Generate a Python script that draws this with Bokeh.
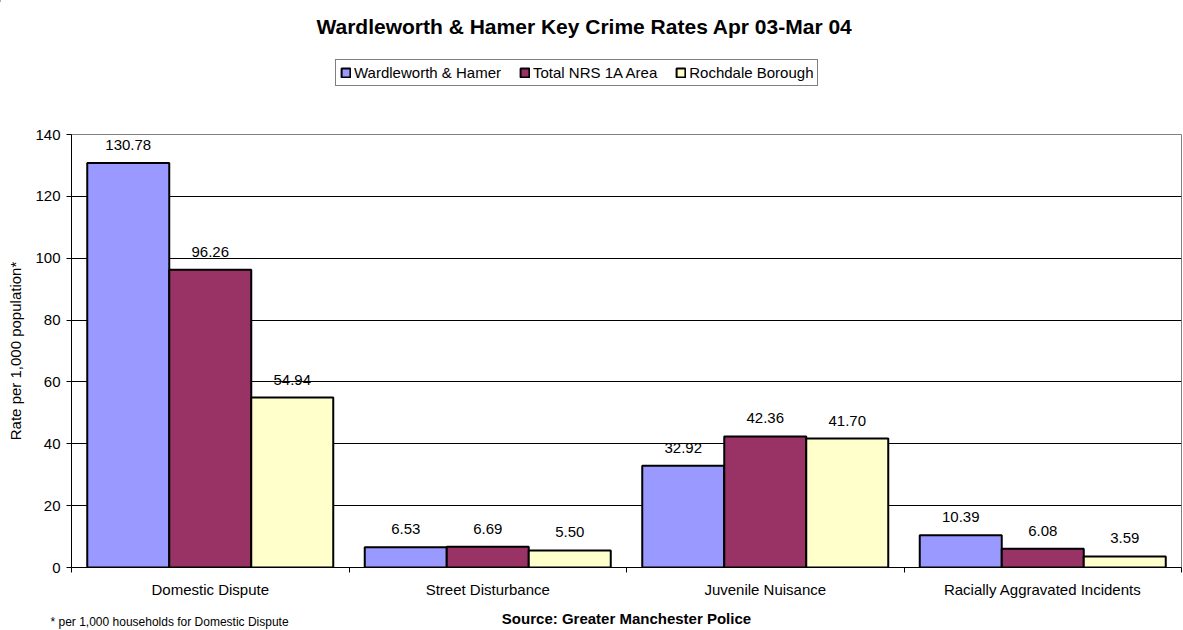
from bokeh.plotting import figure
from bokeh.layouts import column
from bokeh.models import ColumnDataSource, Range1d, FixedTicker, Legend, LegendItem, LabelSet, Label
from bokeh.core.properties import value
from bokeh.transform import dodge
from bokeh.embed import file_html
from bokeh.resources import INLINE

categories = ["Domestic Dispute", "Street Disturbance", "Juvenile Nuisance", "Racially Aggravated Incidents"]
series_names = ["Wardleworth & Hamer", "Total NRS 1A Area", "Rochdale Borough"]
wardleworth = [130.78, 6.53, 32.92, 10.39]
nrs_1a = [96.26, 6.69, 42.36, 6.08]
rochdale = [54.94, 5.50, 41.70, 3.59]
y_ticks = [0, 20, 40, 60, 80, 100, 120, 140]

TITLE = "Wardleworth & Hamer Key Crime Rates Apr 03-Mar 04"
SOURCE = "Source: Greater Manchester Police"
NOTE = "* per 1,000 households for Domestic Dispute"
Y_LABEL = "Rate per 1,000 population*"

colors = ["#9999FF", "#993366", "#FFFFCC"]
FONT = "Liberation Sans"
FS = "15px"
W = 1183
TOP_H = 100
MAIN_H = 507
BOT_H = 630 - TOP_H - MAIN_H

# ---------------- top: title + legend ----------------
top = figure(width=W, height=TOP_H, output_backend="svg", toolbar_location=None,
             title_location=None,
             x_range=Range1d(0, W), y_range=Range1d(TOP_H, 0),
             x_axis_type=None, y_axis_type=None, min_border=0, frame_align=False)
top.outline_line_color = None
top.grid.visible = False
top.add_layout(Label(x=584, y=26, text=TITLE, text_align="center", text_baseline="alphabetic",
                     text_font=FONT, text_font_size="21px", text_font_style="bold",
                     text_color="black"))
# legend proxies (kept outside the visible range)
proxy = ColumnDataSource(dict(x=[-1000], top=[0]))
dummy = [top.vbar(x="x", top="top", width=1, source=proxy, fill_color=col,
                  line_color="black", line_width=2) for col in colors]
legend = Legend(items=[LegendItem(label=n, renderers=[r]) for n, r in zip(series_names, dummy)],
                orientation="horizontal", location=(335, TOP_H - 86),
                glyph_width=11, glyph_height=11, label_standoff=3, spacing=18,
                padding=4, margin=0, label_height=14,
                label_text_font=FONT, label_text_font_size=FS, label_text_color="black",
                border_line_color="black", border_line_width=1,
                background_fill_color="white", background_fill_alpha=1)
top.add_layout(legend, "center")

# ---------------- main chart ----------------
xs = [i + 0.5 for i in range(len(categories))]
src = ColumnDataSource(dict(
    x=xs,
    w=wardleworth, n=nrs_1a, r=rochdale,
    wl=[f"{v:.2f}" for v in wardleworth],
    nl=[f"{v:.2f}" for v in nrs_1a],
    rl=[f"{v:.2f}" for v in rochdale],
))

p = figure(width=W, height=MAIN_H, output_backend="svg", toolbar_location=None,
           title_location=None,
           x_range=Range1d(0, len(categories)), y_range=Range1d(0, 140),
           min_border_left=71, min_border_right=2, min_border_top=134 - TOP_H,
           min_border_bottom=TOP_H + MAIN_H - 567, frame_align=False)
p.background_fill_color = "white"
p.border_fill_color = "white"
p.outline_line_color = "#808080"
p.outline_line_width = 1

bw = 0.2955
for key, off, col in zip(["w", "n", "r"], [-bw, 0, bw], colors):
    p.vbar(x=dodge("x", off, range=p.x_range), top=key, width=bw, source=src,
           fill_color=col, line_color="black", line_width=2)
    p.add_layout(LabelSet(x=dodge("x", off, range=p.x_range), y=key, text=key + "l", source=src,
                          text_align="center", text_baseline="alphabetic", y_offset=13,
                          text_font=value(FONT), text_font_size=value(FS), text_color="black"))

p.yaxis.ticker = FixedTicker(ticks=y_ticks)
p.yaxis.axis_label = Y_LABEL
p.yaxis.axis_label_text_font = FONT
p.yaxis.axis_label_text_font_style = "normal"
p.yaxis.axis_label_text_font_size = FS
p.yaxis.axis_label_text_color = "black"
p.yaxis.axis_label_standoff = 8
p.yaxis.major_label_text_font = FONT
p.yaxis.major_label_text_font_size = FS
p.yaxis.major_label_text_color = "black"
p.yaxis.major_label_standoff = 6
p.yaxis.major_tick_out = 5
p.yaxis.major_tick_in = 0
p.yaxis.minor_tick_line_color = None
p.yaxis.axis_line_color = "black"
p.yaxis.major_tick_line_color = "black"

p.xaxis.ticker = FixedTicker(ticks=xs, minor_ticks=list(range(len(categories) + 1)))
p.xaxis.major_label_overrides = {x: c for x, c in zip(xs, categories)}
p.xaxis.major_tick_line_color = None
p.xaxis.major_tick_out = 0
p.xaxis.major_tick_in = 0
p.xaxis.minor_tick_out = 5
p.xaxis.minor_tick_in = 0
p.xaxis.minor_tick_line_color = "black"
p.xaxis.major_label_text_font = FONT
p.xaxis.major_label_text_font_size = FS
p.xaxis.major_label_text_color = "black"
p.xaxis.major_label_standoff = 8
p.xaxis.axis_line_color = "black"

p.xgrid.grid_line_color = None
p.ygrid.grid_line_color = "black"
p.ygrid.grid_line_width = 1

# ---------------- bottom: source + footnote ----------------
bot = figure(width=W, height=BOT_H, output_backend="svg", toolbar_location=None,
             title_location=None,
             x_range=Range1d(0, W), y_range=Range1d(BOT_H, 0),
             x_axis_type=None, y_axis_type=None, min_border=0, frame_align=False)
bot.outline_line_color = None
bot.grid.visible = False
y0 = TOP_H + MAIN_H
bot.add_layout(Label(x=626, y=618 - y0, text=SOURCE, text_align="center", text_baseline="alphabetic",
                     text_font=FONT, text_font_size=FS, text_font_style="bold", text_color="black"))
bot.add_layout(Label(x=50, y=621 - y0, text=NOTE, text_align="left", text_baseline="alphabetic",
                     text_font=FONT, text_font_size="12px", text_color="black"))

layout = column(top, p, bot, spacing=0)
open("out.html", "w").write(file_html(layout, INLINE))
